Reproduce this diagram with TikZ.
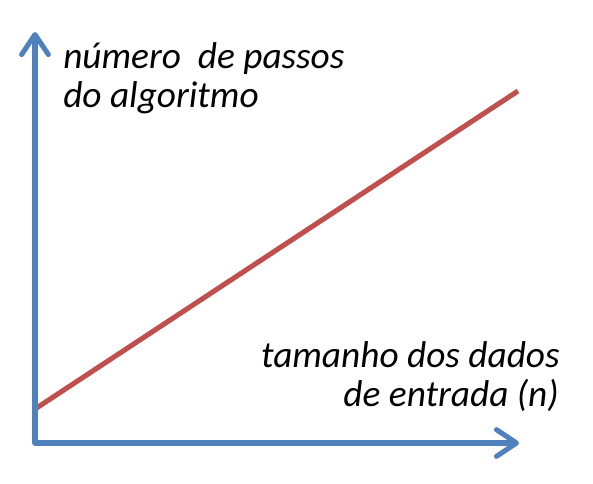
\documentclass[tikz,border=0pt]{standalone}
\usepackage{fontspec}
\setmainfont{Carlito}
\usetikzlibrary{arrows.meta}
\definecolor{axisblue}{HTML}{4F81BD}
\definecolor{curvered}{HTML}{C0504D}
\tikzset{
  axis/.style={axisblue,line width=3.8pt,line cap=round,
    -{Straight Barb[length=15pt,width=20pt,line cap=round,line join=round]}},
  curve/.style={curvered,line width=3.8pt},
  lbl/.style={font=\fontsize{28}{30}\selectfont\itshape,inner sep=0pt}
}
\begin{document}
\begin{tikzpicture}[x=0.75pt,y=-0.75pt]
    \useasboundingbox (0,0) rectangle (593,483);
    \coordinate (origin) at (35,443);
    \coordinate (ytip) at (35,32);
    \coordinate (xtip) at (519,443);
    \coordinate (start) at (35,409);
    \coordinate (end) at (518,91);
    \draw[curve] (start)--(end);
    \draw[axis] (origin)--(ytip);
    \draw[axis] (origin)--(xtip);
    \node[lbl,anchor=base west] (ylabel1) at (63,68) {número\ \ de passos};
    \node[lbl,anchor=base west] (ylabel2) at (63,107) {do algoritmo};
    \node[lbl,anchor=base east] (xlabel1) at (560,367) {tamanho dos dados};
    \node[lbl,anchor=base east] (xlabel2) at (559,406) {de entrada (n)};
\end{tikzpicture}
\end{document}
